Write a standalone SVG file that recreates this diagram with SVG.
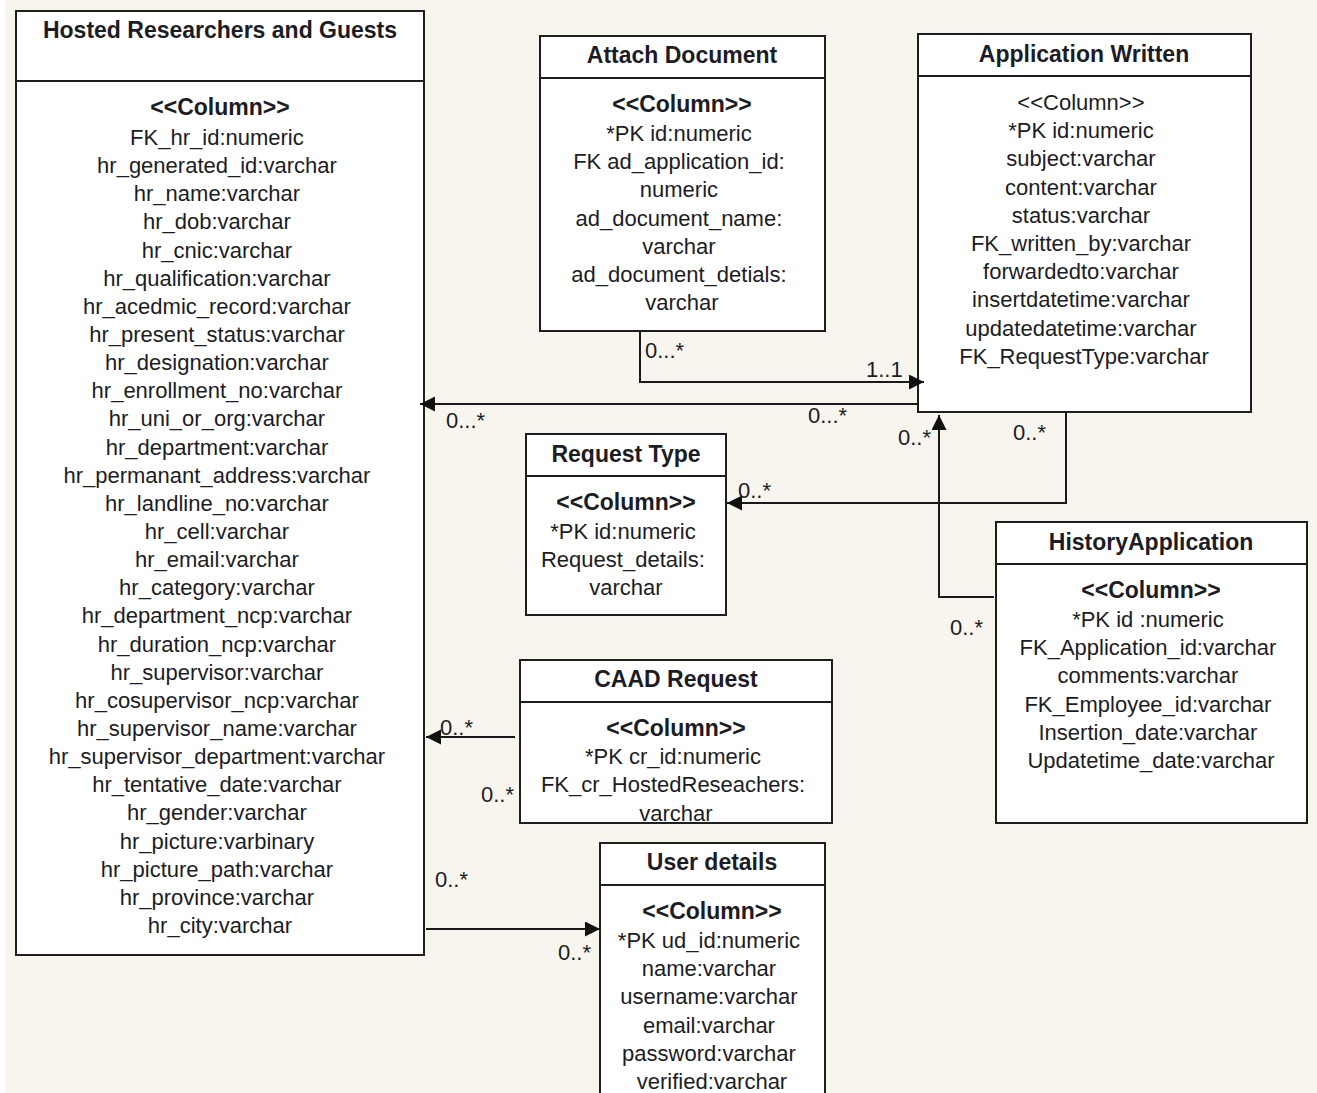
<svg xmlns="http://www.w3.org/2000/svg" width="1317" height="1093" viewBox="0 0 1317 1093">
  <defs>
    <style>
      .box { fill: #ffffff; stroke: #1e1e1e; stroke-width: 2; }
      .div { stroke: #1e1e1e; stroke-width: 2; }
      text { font-family: "Liberation Sans", Arial, sans-serif; fill: #1c1c24; }
      .title { font-size: 23px; font-weight: bold; text-anchor: middle; }
      .col { font-size: 23px; font-weight: bold; text-anchor: middle; }
      .row { font-size: 22px; text-anchor: middle; }
      .lbl { font-size: 22px; }
      .conn { fill: none; stroke: #1a1a1a; stroke-width: 2; }
    </style>
    <marker id="arrow" markerUnits="userSpaceOnUse" markerWidth="16" markerHeight="16" refX="15" refY="7.5" orient="auto">
      <path d="M0,0 L15,7.5 L0,15 Z" fill="#111111"/>
    </marker>
  </defs>

  <!-- canvas -->
  <rect x="0" y="0" width="1317" height="1093" fill="#f8f5ef"/>
  <rect x="0" y="0" width="5" height="1093" fill="#ffffff"/>

  <!-- Hosted Researchers and Guests -->
  <g id="hosted-researchers">
    <rect class="box" x="16" y="11" width="408" height="944"/>
    <line class="div" x1="16" y1="81" x2="424" y2="81"/>
    <text class="title" x="220" y="38">Hosted Researchers and Guests</text>
    <text class="col" x="220" y="115">&lt;&lt;Column&gt;&gt;</text>
    <text class="row">
      <tspan x="220" y="145">FK_hr_id:numeric</tspan>
      <tspan x="220" dy="28.14">hr_generated_id:varchar</tspan>
      <tspan x="220" dy="28.14">hr_name:varchar</tspan>
      <tspan x="220" dy="28.14">hr_dob:varchar</tspan>
      <tspan x="220" dy="28.14">hr_cnic:varchar</tspan>
      <tspan x="220" dy="28.14">hr_qualification:varchar</tspan>
      <tspan x="220" dy="28.14">hr_acedmic_record:varchar</tspan>
      <tspan x="220" dy="28.14">hr_present_status:varchar</tspan>
      <tspan x="220" dy="28.14">hr_designation:varchar</tspan>
      <tspan x="220" dy="28.14">hr_enrollment_no:varchar</tspan>
      <tspan x="220" dy="28.14">hr_uni_or_org:varchar</tspan>
      <tspan x="220" dy="28.14">hr_department:varchar</tspan>
      <tspan x="220" dy="28.14">hr_permanant_address:varchar</tspan>
      <tspan x="220" dy="28.14">hr_landline_no:varchar</tspan>
      <tspan x="220" dy="28.14">hr_cell:varchar</tspan>
      <tspan x="220" dy="28.14">hr_email:varchar</tspan>
      <tspan x="220" dy="28.14">hr_category:varchar</tspan>
      <tspan x="220" dy="28.14">hr_department_ncp:varchar</tspan>
      <tspan x="220" dy="28.14">hr_duration_ncp:varchar</tspan>
      <tspan x="220" dy="28.14">hr_supervisor:varchar</tspan>
      <tspan x="220" dy="28.14">hr_cosupervisor_ncp:varchar</tspan>
      <tspan x="220" dy="28.14">hr_supervisor_name:varchar</tspan>
      <tspan x="220" dy="28.14">hr_supervisor_department:varchar</tspan>
      <tspan x="220" dy="28.14">hr_tentative_date:varchar</tspan>
      <tspan x="220" dy="28.14">hr_gender:varchar</tspan>
      <tspan x="220" dy="28.14">hr_picture:varbinary</tspan>
      <tspan x="220" dy="28.14">hr_picture_path:varchar</tspan>
      <tspan x="220" dy="28.14">hr_province:varchar</tspan>
      <tspan x="220" dy="28.14">hr_city:varchar</tspan>
    </text>
  </g>

  <!-- Attach Document -->
  <g id="attach-document">
    <rect class="box" x="540" y="36" width="285" height="295"/>
    <line class="div" x1="540" y1="78" x2="825" y2="78"/>
    <text class="title" x="682" y="63">Attach Document</text>
    <text class="col" x="682" y="112">&lt;&lt;Column&gt;&gt;</text>
    <text class="row">
      <tspan x="682" y="141">*PK id:numeric</tspan>
      <tspan x="682" dy="28.2">FK ad_application_id:</tspan>
      <tspan x="682" dy="28.2">numeric</tspan>
      <tspan x="682" dy="28.2">ad_document_name:</tspan>
      <tspan x="682" dy="28.2">varchar</tspan>
      <tspan x="682" dy="28.2">ad_document_detials:</tspan>
      <tspan x="682" dy="28.2">varchar</tspan>
    </text>
  </g>

  <!-- Application Written -->
  <g id="application-written">
    <rect class="box" x="918" y="34" width="333" height="378"/>
    <line class="div" x1="918" y1="76" x2="1251" y2="76"/>
    <text class="title" x="1084" y="62">Application Written</text>
    <text class="row">
      <tspan x="1084" y="110">&lt;&lt;Column&gt;&gt;</tspan>
      <tspan x="1084" dy="28.2">*PK id:numeric</tspan>
      <tspan x="1084" dy="28.2">subject:varchar</tspan>
      <tspan x="1084" dy="28.2">content:varchar</tspan>
      <tspan x="1084" dy="28.2">status:varchar</tspan>
      <tspan x="1084" dy="28.2">FK_written_by:varchar</tspan>
      <tspan x="1084" dy="28.2">forwardedto:varchar</tspan>
      <tspan x="1084" dy="28.2">insertdatetime:varchar</tspan>
      <tspan x="1084" dy="28.2">updatedatetime:varchar</tspan>
      <tspan x="1084" dy="28.2">FK_RequestType:varchar</tspan>
    </text>
  </g>

  <!-- Request Type -->
  <g id="request-type">
    <rect class="box" x="526" y="434" width="200" height="181"/>
    <line class="div" x1="526" y1="476" x2="726" y2="476"/>
    <text class="title" x="626" y="462">Request Type</text>
    <text class="col" x="626" y="510">&lt;&lt;Column&gt;&gt;</text>
    <text class="row">
      <tspan x="626" y="539">*PK id:numeric</tspan>
      <tspan x="626" dy="28.2">Request_details:</tspan>
      <tspan x="626" dy="28.2">varchar</tspan>
    </text>
  </g>

  <!-- HistoryApplication -->
  <g id="history-application">
    <rect class="box" x="996" y="522" width="311" height="301"/>
    <line class="div" x1="996" y1="564" x2="1307" y2="564"/>
    <text class="title" x="1151" y="550">HistoryApplication</text>
    <text class="col" x="1151" y="598">&lt;&lt;Column&gt;&gt;</text>
    <text class="row">
      <tspan x="1151" y="627">*PK id :numeric</tspan>
      <tspan x="1151" dy="28.2">FK_Application_id:varchar</tspan>
      <tspan x="1151" dy="28.2">comments:varchar</tspan>
      <tspan x="1151" dy="28.2">FK_Employee_id:varchar</tspan>
      <tspan x="1151" dy="28.2">Insertion_date:varchar</tspan>
      <tspan x="1151" dy="28.2">Updatetime_date:varchar</tspan>
    </text>
  </g>

  <!-- CAAD Request -->
  <g id="caad-request">
    <rect class="box" x="520" y="660" width="312" height="163"/>
    <line class="div" x1="520" y1="702" x2="832" y2="702"/>
    <text class="title" x="676" y="687">CAAD Request</text>
    <text class="col" x="676" y="736">&lt;&lt;Column&gt;&gt;</text>
    <text class="row">
      <tspan x="676" y="764">*PK cr_id:numeric</tspan>
      <tspan x="676" dy="28.3">FK_cr_HostedReseachers:</tspan>
      <tspan x="676" dy="28.3">varchar</tspan>
    </text>
  </g>

  <!-- User details -->
  <g id="user-details">
    <rect class="box" x="600" y="843" width="225" height="262"/>
    <line class="div" x1="600" y1="885" x2="825" y2="885"/>
    <text class="title" x="712" y="870">User details</text>
    <text class="col" x="712" y="919">&lt;&lt;Column&gt;&gt;</text>
    <text class="row">
      <tspan x="712" y="948">*PK ud_id:numeric</tspan>
      <tspan x="712" dy="28.2">name:varchar</tspan>
      <tspan x="712" dy="28.2">username:varchar</tspan>
      <tspan x="712" dy="28.2">email:varchar</tspan>
      <tspan x="712" dy="28.2">password:varchar</tspan>
      <tspan x="712" dy="28.2">verified:varchar</tspan>
    </text>
  </g>

  <!-- relationships -->
  <g id="connectors">
    <!-- Attach Document -> Application Written -->
    <path class="conn" d="M640,331 V382 H924" marker-end="url(#arrow)"/>
    <text class="lbl" x="645" y="358">0...*</text>
    <text class="lbl" x="866" y="377">1..1</text>

    <!-- Application Written -> Hosted Researchers -->
    <path class="conn" d="M918,404 H420" marker-end="url(#arrow)"/>
    <text class="lbl" x="446" y="428">0...*</text>
    <text class="lbl" x="808" y="423">0...*</text>

    <!-- Application Written -> Request Type -->
    <path class="conn" d="M1066,412 V503 H727" marker-end="url(#arrow)"/>
    <text class="lbl" x="1013" y="440">0..*</text>
    <text class="lbl" x="738" y="498">0..*</text>

    <!-- HistoryApplication -> Application Written -->
    <path class="conn" d="M994,597 H939 V415" marker-end="url(#arrow)"/>
    <text class="lbl" x="898" y="445">0..*</text>
    <text class="lbl" x="950" y="635">0..*</text>

    <!-- CAAD Request -> Hosted Researchers -->
    <path class="conn" d="M515,737 H426" marker-end="url(#arrow)"/>
    <text class="lbl" x="440" y="735">0..*</text>
    <text class="lbl" x="481" y="802">0..*</text>

    <!-- Hosted Researchers -> User details -->
    <path class="conn" d="M426,929 H600" marker-end="url(#arrow)"/>
    <text class="lbl" x="435" y="887">0..*</text>
    <text class="lbl" x="558" y="960">0..*</text>
  </g>
</svg>
